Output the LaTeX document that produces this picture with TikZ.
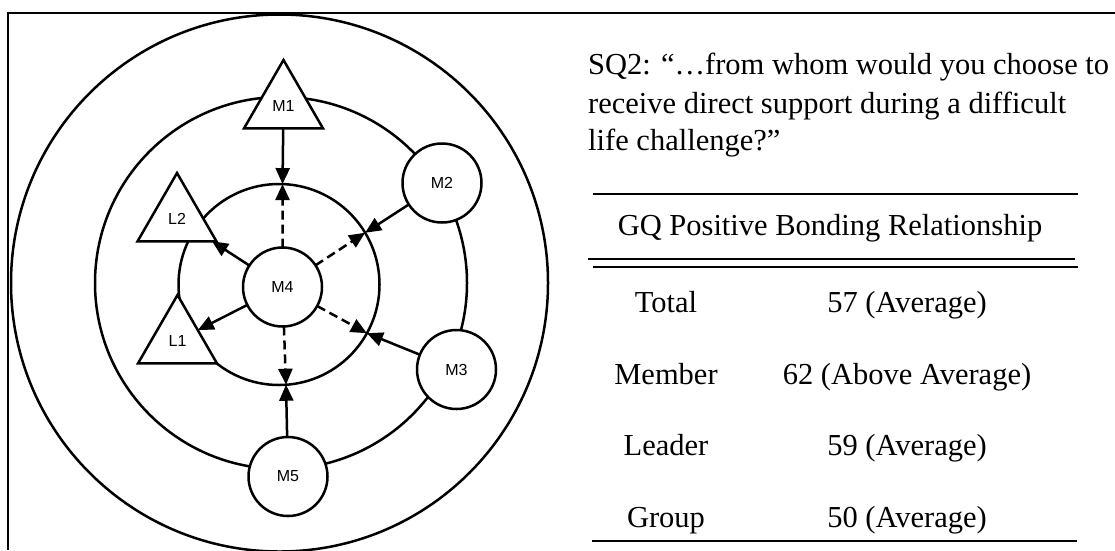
\documentclass[tikz,border=0pt]{standalone}
\usepackage{fontspec}
\setmainfont{Liberation Serif}
\newfontfamily\diagfont{Liberation Sans}
\usetikzlibrary{arrows.meta,shapes.geometric}
\begin{document}
\begin{tikzpicture}[x=1pt,y=-1pt,
  ring/.style={circle,draw,line width=2.5pt,minimum size=#1,inner sep=0pt,outer sep=0pt},
  mem/.style={circle,draw,fill=white,line width=2.5pt,minimum size=79pt,inner sep=0pt,outer sep=0pt,font=\diagfont\fontsize{16}{18}\selectfont},
  lead/.style={regular polygon,regular polygon sides=3,draw,fill=white,line width=2.5pt,minimum size=91pt,inner sep=0pt,outer sep=0pt,font=\diagfont\fontsize{16}{18}\selectfont},
  link/.style={line width=2.5pt,-{Triangle[length=16pt,width=14pt]}},
  dlink/.style={link,dash pattern=on 9pt off 5pt},
  txt/.style={font=\fontsize{30.5}{36}\selectfont,inner sep=0pt,anchor=base west},
  cell/.style={font=\fontsize{30.5}{36}\selectfont,inner sep=0pt,anchor=base},
  tabrule/.style={line width=2pt}
]
\useasboundingbox (0,0) rectangle (1115,550);
% frame
\draw[line width=1.8pt] (1115,13) -- (8,13) -- (8,550);
% rings
\node[ring=537pt] (R1) at (279.5,283) {};
\node[ring=372pt] (R2) at (281,283) {};
\node[ring=201pt] (R3) at (279,284.5) {};
% members
\node[lead] (M1) at (283.5,105.5) {M1};
\node[lead] (L2) at (177,218.5) {L2};
\node[lead] (L1) at (177.5,340.5) {L1};
\node[mem] (M2) at (442,183) {M2};
\node[mem] (M3) at (456.5,369.5) {M3};
\node[mem] (M4) at (282.5,287) {M4};
\node[mem] (M5) at (288,476.5) {M5};
% connectors
\draw[link] (M1) -- (R3.88);
\draw[dlink] (M4) -- (R3.88);
\draw[link] (M2) -- (R3.31);
\draw[dlink] (M4) -- (R3.31);
\draw[link] (M3) -- (R3.331);
\draw[dlink] (M4) -- (R3.331);
\draw[link] (M5) -- (R3.274);
\draw[dlink] (M4) -- (R3.274);
\draw[link] (M4) -- (L2);
\draw[link] (M4) -- (L1);
% question text
\node[txt] (q1) at (588,74) {SQ2: “…from whom would you choose to};
\node[txt] (q2) at (588,113) {receive direct support during a difficult};
\node[txt] (q3) at (588,150) {life challenge?”};
% table
\draw[tabrule] (593,194) -- (1078,194);
\node[cell] (hd) at (830,235) {GQ Positive Bonding Relationship};
\draw[tabrule] (588,259) -- (1075,259);
\draw[tabrule] (593,267) -- (1078,267);
\node[cell] (r1a) at (666,312) {Total};
\node[cell] (r1b) at (907,312) {57 (Average)};
\node[cell] (r2a) at (666,384) {Member};
\node[cell] (r2b) at (907,384) {62 (Above Average)};
\node[cell] (r3a) at (666,455) {Leader};
\node[cell] (r3b) at (907,455) {59 (Average)};
\node[cell] (r4a) at (666,527) {Group};
\node[cell] (r4b) at (907,527) {50 (Average)};
\draw[tabrule] (592,541) -- (1077,541);
\end{tikzpicture}
\end{document}
